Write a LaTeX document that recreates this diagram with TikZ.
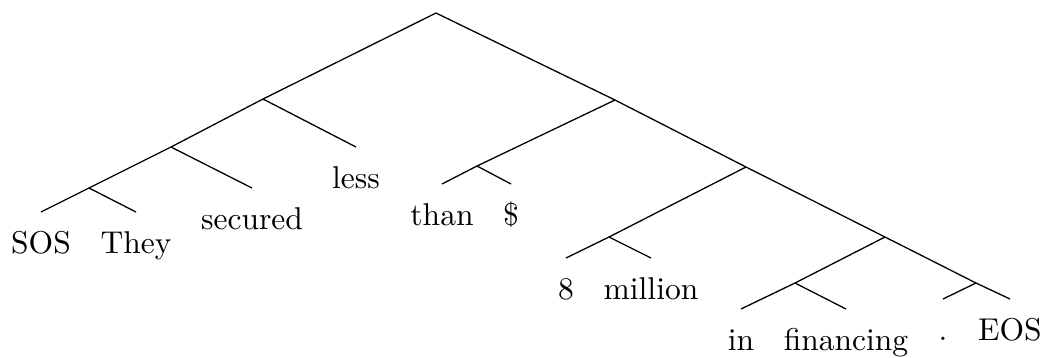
\documentclass[tikz,border=0pt]{standalone}
\begin{document}
\begin{tikzpicture}[x=0.3077pt,y=-0.3077pt,
  edge/.style={line width=0.4pt},
  leaf/.style={anchor=north,inner sep=0pt,text height=12.6pt,text depth=0pt,font=\fontsize{9.7}{11}\selectfont}]
\useasboundingbox (0,0) rectangle (1054,357);
% internal nodes
\coordinate (r) at (436,13);
\coordinate (a) at (263,99);
\coordinate (b) at (171,147);
\coordinate (c) at (89,188);
\coordinate (d) at (477,166);
\coordinate (rr) at (615,100);
\coordinate (s) at (746,167);
\coordinate (e) at (609,237);
\coordinate (t) at (885,237);
\coordinate (f) at (795,283);
\coordinate (g) at (976,283);
% leaves
\node[leaf] (sos) at (41,212) {SOS};
\node[leaf] (they) at (136,212) {They};
\node[leaf] (secured) at (252,188) {secured};
\node[leaf] (less) at (356,147) {less};
\node[leaf] (than) at (442,184) {than};
\node[leaf] (dollar) at (511,184) {\$};
\node[leaf] (eight) at (566,258) {8};
\node[leaf] (million) at (651,258) {million};
\node[leaf] (in) at (741,309) {in};
\node[leaf] (financing) at (846,309) {financing};
\node[leaf] (dot) at (943,299) {.};
\node[leaf] (eos) at (1010,299) {EOS};
% edges
\draw[edge] (r) -- (a);
\draw[edge] (r) -- (rr);
\draw[edge] (a) -- (b);
\draw[edge] (a) -- (less.north);
\draw[edge] (b) -- (c);
\draw[edge] (b) -- (secured.north);
\draw[edge] (c) -- (sos.north);
\draw[edge] (c) -- (they.north);
\draw[edge] (rr) -- (d);
\draw[edge] (rr) -- (s);
\draw[edge] (d) -- (than.north);
\draw[edge] (d) -- (dollar.north);
\draw[edge] (s) -- (e);
\draw[edge] (s) -- (t);
\draw[edge] (e) -- (eight.north);
\draw[edge] (e) -- (million.north);
\draw[edge] (t) -- (f);
\draw[edge] (t) -- (g);
\draw[edge] (f) -- (in.north);
\draw[edge] (f) -- (financing.north);
\draw[edge] (g) -- (dot.north);
\draw[edge] (g) -- (eos.north);
\end{tikzpicture}
\end{document}
